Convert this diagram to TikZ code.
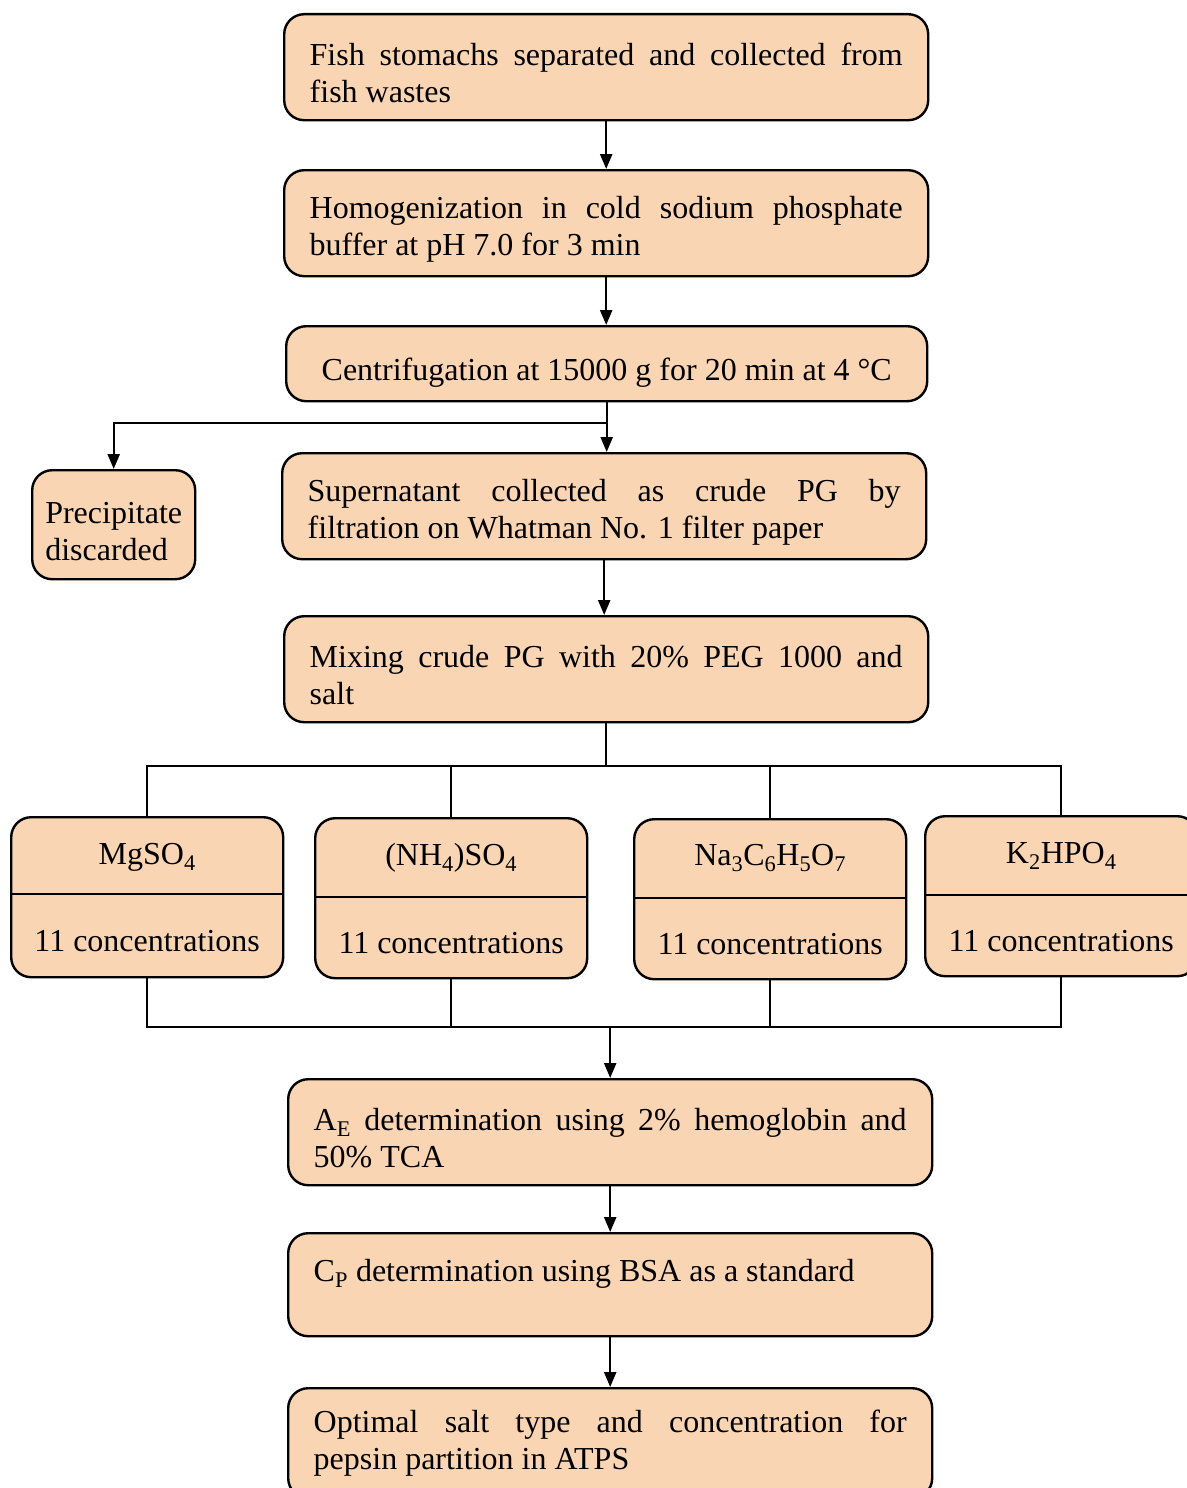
\documentclass[tikz,border=0pt]{standalone}
\usepackage{fontspec}
\setmainfont{Liberation Serif}
\usetikzlibrary{arrows.meta}
\definecolor{peach}{RGB}{250,213,180}
\hyphenpenalty=10000
\exhyphenpenalty=10000
% invisible struts that push a box's text down (top) or up (bottom)
\newcommand\raiseline[1]{\rule{0pt}{#1}}
\newcommand\sinkline[1]{\rule[-#1]{0pt}{#1}}
\begin{document}
\begin{tikzpicture}[x=1pt,y=-1pt,
  every node/.style={font=\fontsize{32}{37}\selectfont},
  box/.style={draw, line width=2.4pt, rounded corners=20pt, fill=peach,
              anchor=north west, inner sep=0pt},
  stepbox/.style={box, minimum width=644pt, minimum height=106pt,
                  text width=593pt, align=justify},
  saltbox/.style={box, minimum width=272pt, minimum height=160pt},
  conn/.style={line width=2.4pt},
  arr/.style={line width=2.4pt, -{Triangle[length=15pt,width=12pt]}}
]
\useasboundingbox (0,0) rectangle (1186,1488);

% main column
\node[stepbox] (fish) at (283,13)
  {\raiseline{34pt}Fish stomachs separated and collected from\linebreak fish wastes};
\node[stepbox] (homo) at (283,169)
  {\raiseline{34pt}Homogenization in cold sodium phosphate\linebreak buffer at pH 7.0 for 3 min};
\node[box, minimum width=641pt, minimum height=75pt] (cent) at (285,325)
  {\raiseline{40pt}Centrifugation at 15000 g for 20 min at 4 °C};
\node[box, minimum width=163pt, minimum height=109pt, align=left] (prec) at (31,469)
  {\raiseline{34pt}Precipitate\\discarded};
\node[stepbox] (sup) at (281,452)
  {\raiseline{34pt}Supernatant collected as crude PG by\linebreak filtration on Whatman No. 1 filter paper};
\node[stepbox] (mix) at (283,615)
  {\raiseline{34pt}Mixing crude PG with 20\% PEG 1000 and\linebreak salt};

% salt boxes
\node[saltbox] (mg) at (10,816) {};
\node[saltbox] (nh) at (314,817) {};
\node[saltbox] (na) at (633,818) {};
\node[saltbox] (kp) at (924,815) {};
\draw[conn] (mg.west |- 0,894) -- (mg.east |- 0,894);
\draw[conn] (nh.west |- 0,897) -- (nh.east |- 0,897);
\draw[conn] (na.west |- 0,898) -- (na.east |- 0,898);
\draw[conn] (kp.west |- 0,895) -- (kp.east |- 0,895);
\node (mgt) at (mg.north |- 0,857) {MgSO\textsubscript{4}};
\node (nht) at (nh.north |- 0,858) {(NH\textsubscript{4})SO\textsubscript{4}};
\node (nat) at (na.north |- 0,858) {Na\textsubscript{3}C\textsubscript{6}H\textsubscript{5}O\textsubscript{7}};
\node (kpt) at (kp.north |- 0,856) {K\textsubscript{2}HPO\textsubscript{4}};
\node (mgc) at (mg.north |- 0,941) {11 concentrations};
\node (nhc) at (nh.north |- 0,943) {11 concentrations};
\node (nac) at (na.north |- 0,944) {11 concentrations};
\node (kpc) at (kp.north |- 0,941) {11 concentrations};

% analysis steps
\node[stepbox] (ae) at (287,1078)
  {\raiseline{34pt}A\textsubscript{E} determination using 2\% hemoglobin and\linebreak 50\% TCA};
\node[stepbox, minimum height=103pt] (cp) at (287,1232)
  {C\textsubscript{P} determination using BSA as a standard\sinkline{28pt}};
\node[stepbox, minimum height=110pt] (opt) at (287,1387)
  {Optimal salt type and concentration for\linebreak pepsin partition in ATPS};

% connectors
\draw[arr] (fish.south) -- (fish.south |- homo.north);
\draw[arr] (homo.south) -- (homo.south |- cent.north);
\draw[arr] (cent.south) -- (cent.south |- sup.north);
\draw[arr] (cent.south |- 0,423) -| (prec.north);
\draw[arr] (sup.south) -- (sup.south |- mix.north);

\draw[conn] (mix.south) -- (mix.south |- 0,766);
\draw[conn] (mg.north) -- (mg.north |- 0,766) -- (kp.north |- 0,766) -- (kp.north);
\draw[conn] (nh.north) -- (nh.north |- 0,766);
\draw[conn] (na.north) -- (na.north |- 0,766);

\draw[conn] (mg.south) -- (mg.south |- 0,1027) -- (kp.south |- 0,1027) -- (kp.south);
\draw[conn] (nh.south) -- (nh.south |- 0,1027);
\draw[conn] (na.south) -- (na.south |- 0,1027);
\draw[arr] (ae.north |- 0,1027) -- (ae.north);

\draw[arr] (ae.south) -- (ae.south |- cp.north);
\draw[arr] (cp.south) -- (cp.south |- opt.north);
\end{tikzpicture}
\end{document}
